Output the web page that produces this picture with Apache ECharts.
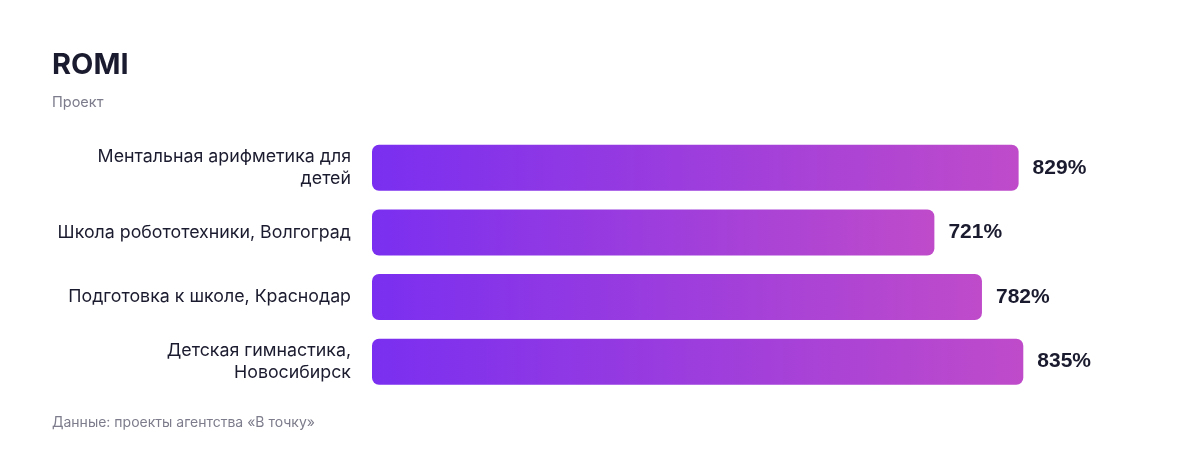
<!DOCTYPE html>
<html>
<head>
<meta charset="utf-8">
<script src="https://cdn.jsdelivr.net/npm/echarts@6/dist/echarts.min.js"></script>
<style>
html,body{margin:0;padding:0;background:#fff;}
#chart{width:1200px;height:456px;}
</style>
</head>
<body>
<div id="chart"></div>
<script>
const categories = [
  "Ментальная арифметика для\nдетей",
  "Школа робототехники, Волгоград",
  "Подготовка к школе, Краснодар",
  "Детская гимнастика,\nНовосибирск"
];
const romiValues = [829, 721, 782, 835];

const FONT = "Inter, 'Liberation Sans', Arial, sans-serif";
const NUMFONT = "'Liberation Sans', Arial, sans-serif";
const chart = echarts.init(document.getElementById('chart'));
chart.setOption({
  backgroundColor: '#ffffff',
  animation: false,
  title: [
    { text: 'ROMI', left: 52, top: 51, padding: 0, textStyle: { fontFamily: FONT, fontSize: 29, fontWeight: 'bold', color: '#1b1b2f' } },
    { text: 'Проект', left: 52, top: 95, padding: 0, textStyle: { fontFamily: FONT, fontSize: 14.5, fontWeight: 'normal', color: '#7c7c8c' } },
    { text: 'Данные: проекты агентства «В точку»', left: 52, top: 416, padding: 0, textStyle: { fontFamily: FONT, fontSize: 14, fontWeight: 'normal', color: '#7c7c8c' } }
  ],
  grid: { left: 372, right: 48, top: 135.5, height: 258.5, containLabel: false },
  xAxis: { type: 'value', min: 0, max: 1000, show: false },
  yAxis: {
    type: 'category', data: categories, inverse: true,
    axisLine: { show: false }, axisTick: { show: false }, splitLine: { show: false },
    axisLabel: { margin: 21, fontFamily: FONT, fontSize: 17.8, color: '#1b1b2f', lineHeight: 22, align: 'right' }
  },
  series: [{
    type: 'bar', data: romiValues, barWidth: 46,
    itemStyle: {
      borderRadius: 7,
      color: new echarts.graphic.LinearGradient(0, 0, 1, 0, [
        { offset: 0, color: '#7a2ff0' },
        { offset: 1, color: '#bf4bca' }
      ])
    },
    label: {
      show: true, position: 'right', distance: 14,
      formatter: p => p.value + '%',
      fontFamily: NUMFONT, fontSize: 21, fontWeight: 'bold', color: '#1b1b2f'
    }
  }]
});
</script>
</body>
</html>
